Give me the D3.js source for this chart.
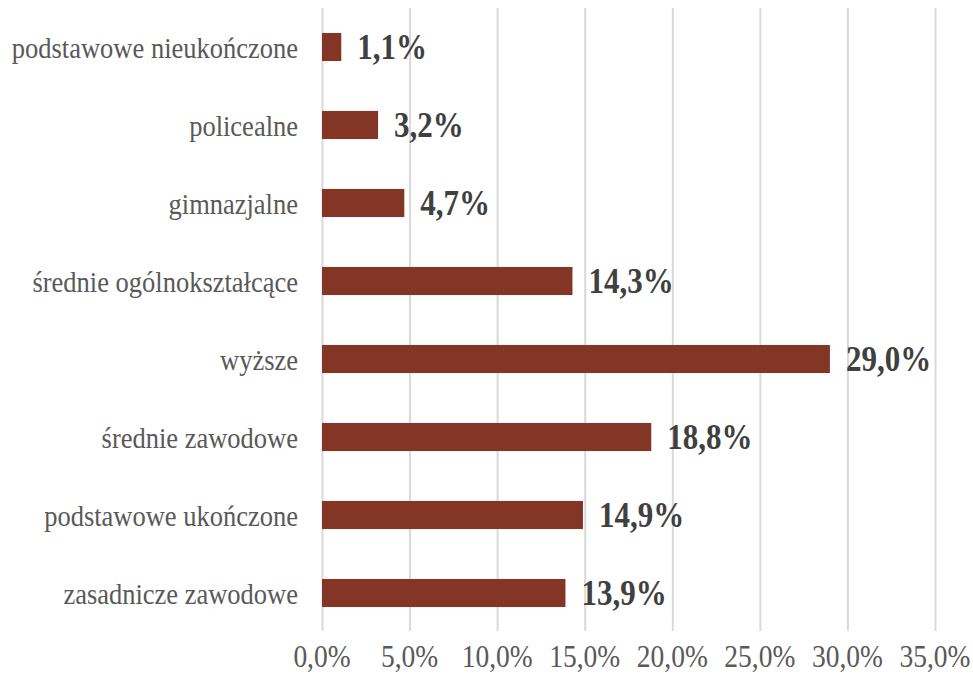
<!DOCTYPE html>
<html>
<head>
<meta charset="utf-8">
<script src="https://cdn.jsdelivr.net/npm/d3@7"></script>
<style>
  body { margin: 0; background: #fff; }
  text { font-family: "Liberation Serif", "Times New Roman", serif; }
</style>
</head>
<body>
<div id="chart"></div>
<script>
// categories top to bottom
const categories = [
    "podstawowe nieukończone",
    "policealne",
    "gimnazjalne",
    "średnie ogólnokształcące",
    "wyższe",
    "średnie zawodowe",
    "podstawowe ukończone",
    "zasadnicze zawodowe"
];
const values = [1.1, 3.2, 4.7, 14.3, 29.0, 18.8, 14.9, 13.9];
const ticks = [0, 5, 10, 15, 20, 25, 30, 35];

const width = 973, height = 679;
const stretch = 1.14; // the text in the original is a bit taller than wide
const fmt = v => v.toFixed(1).replace(".", ",") + "%";
const place = (px, py) => `translate(${px},${py}) scale(1,${stretch})`;

let svg = d3.select("#chart")
    .append("svg")
    .attr("width", width)
    .attr("height", height);

let x = d3.scaleLinear().domain([0, 35]).range([322, 935]);
let y = d3.scaleBand()
    .domain(categories)
    .range([8, 632])
    .paddingInner(0.64)
    .paddingOuter(0.32);

// gridlines
svg.append("g")
    .selectAll("line")
    .data(ticks)
    .enter().append("line")
    .attr("x1", d => x(d) + 0.5)
    .attr("x2", d => x(d) + 0.5)
    .attr("y1", 8)
    .attr("y2", 631)
    .attr("stroke", "#d9d9d9")
    .attr("stroke-width", 2);

// tick labels
svg.append("g")
    .selectAll("text")
    .data(ticks)
    .enter().append("text")
    .attr("transform", d => place(x(d), 656))
    .attr("dy", "0.35em")
    .attr("text-anchor", "middle")
    .attr("font-size", 27.5)
    .attr("fill", "#595959")
    .text(d => fmt(d));

// bars
svg.append("g")
    .selectAll("rect")
    .data(values)
    .enter().append("rect")
    .attr("x", x(0))
    .attr("y", (d, i) => y(categories[i]))
    .attr("width", d => x(d) - x(0))
    .attr("height", y.bandwidth())
    .attr("fill", "#843626");

// value labels
svg.append("g")
    .selectAll("text")
    .data(values)
    .enter().append("text")
    .attr("transform", (d, i) => place(x(d) + 16, y(categories[i]) + y.bandwidth() / 2))
    .attr("dy", "0.35em")
    .attr("font-size", 31)
    .attr("font-weight", "bold")
    .attr("fill", "#404040")
    .text(d => fmt(d));

// category labels
svg.append("g")
    .selectAll("text")
    .data(categories)
    .enter().append("text")
    .attr("transform", d => place(298, y(d) + y.bandwidth() / 2))
    .attr("dy", "0.35em")
    .attr("text-anchor", "end")
    .attr("font-size", 26.5)
    .attr("fill", "#595959")
    .text(d => d);
</script>
</body>
</html>
